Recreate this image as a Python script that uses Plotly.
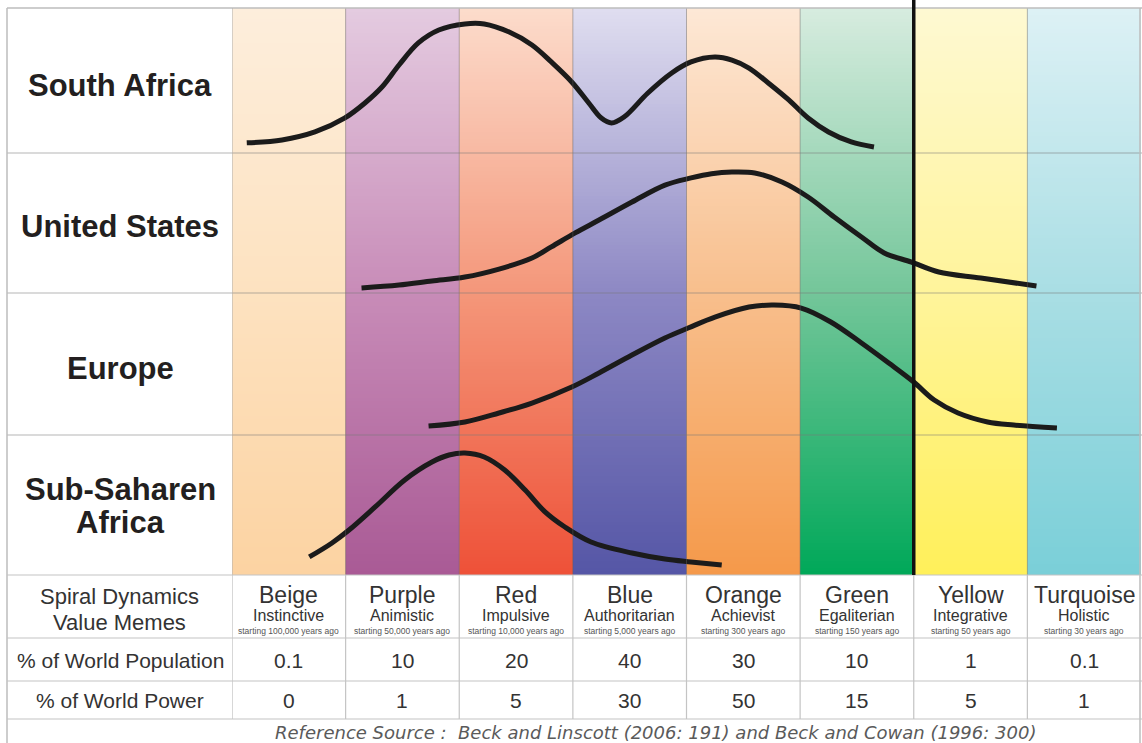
import numpy as np
import plotly.graph_objects as go

# ---------------- data ----------------
memes = ["Beige", "Purple", "Red", "Blue", "Orange", "Green", "Yellow", "Turquoise"]
meme_traits = ["Instinctive", "Animistic", "Impulsive", "Authoritarian",
               "Achievist", "Egaliterian", "Integrative", "Holistic"]
meme_start = ["starting 100,000 years ago", "starting 50,000 years ago",
              "starting 10,000 years ago", "starting 5,000 years ago",
              "starting 300 years ago", "starting 150 years ago",
              "starting 50 years ago", "starting 30 years ago"]
world_population = ["0.1", "10", "20", "40", "30", "10", "1", "0.1"]
world_power = ["0", "1", "5", "30", "50", "15", "5", "1"]

regions = ["South Africa", "United States", "Europe", "Sub-Saharen Africa"]
region_lines = [["South Africa"], ["United States"], ["Europe"], ["Sub-Saharen", "Africa"]]

# distribution curves: x in meme-column units (0 = left edge of Beige), level = share of row height
sa_x = [0.13, 0.44, 0.73, 0.99, 1.17, 1.32, 1.47, 1.64, 1.82, 2.05, 2.22, 2.44, 2.64, 2.81,
        2.99, 3.14, 3.25, 3.34, 3.45, 3.66, 3.87, 4.04, 4.25, 4.40, 4.55, 4.72, 4.90, 5.07,
        5.25, 5.45, 5.65]
sa_level = [0.07, 0.09, 0.145, 0.24, 0.345, 0.455, 0.607, 0.759, 0.848, 0.89, 0.89, 0.834,
            0.745, 0.628, 0.49, 0.345, 0.241, 0.207, 0.248, 0.414, 0.552, 0.628, 0.662,
            0.641, 0.586, 0.483, 0.366, 0.241, 0.145, 0.076, 0.041]

us_x = [1.14, 1.47, 1.76, 2.05, 2.35, 2.64, 2.81, 3.02, 3.23, 3.52, 3.81, 4.04, 4.22, 4.40,
        4.60, 4.84, 5.07, 5.30, 5.54, 5.74, 5.98, 6.22, 6.59, 7.08]
us_level = [0.036, 0.057, 0.086, 0.114, 0.171, 0.25, 0.329, 0.429, 0.521, 0.65, 0.771, 0.822,
            0.852, 0.864, 0.857, 0.793, 0.686, 0.543, 0.40, 0.286, 0.221, 0.15, 0.107, 0.05]

eu_x = [1.73, 2.05, 2.35, 2.64, 2.99, 3.23, 3.52, 3.81, 4.02, 4.25, 4.55, 4.77, 5.01, 5.27,
        5.54, 5.78, 6.0, 6.18, 6.39, 6.65, 6.88, 7.26]
eu_level = [0.063, 0.092, 0.155, 0.225, 0.338, 0.437, 0.563, 0.683, 0.755, 0.830, 0.901,
            0.915, 0.894, 0.796, 0.648, 0.507, 0.373, 0.246, 0.155, 0.092, 0.07, 0.049]

ssa_x = [0.68, 0.88, 1.03, 1.26, 1.52, 1.76, 1.91, 2.05, 2.22, 2.40, 2.58, 2.75, 2.93, 3.16,
         3.52, 3.81, 4.04, 4.31]
ssa_level = [0.129, 0.229, 0.321, 0.486, 0.679, 0.807, 0.857, 0.871, 0.843, 0.75, 0.607,
             0.455, 0.343, 0.236, 0.157, 0.114, 0.093, 0.071]

curves_x = [sa_x, us_x, eu_x, ssa_x]
curves_level = [sa_level, us_level, eu_level, ssa_level]

# column gradient colours (bottom, middle, top)
col_bottom = ["#fcd3a2", "#a95a95", "#ee5138", "#5556a6", "#f5994a", "#00a859", "#fff05a", "#7acfd8"]
col_mid = ["#fde2c0", "#c88cb8", "#f4977a", "#8d88c4", "#f8bf8d", "#74c69a", "#fff49b", "#a9dee4"]
col_top = ["#fdeedc", "#e4cbe0", "#fcdccc", "#e0def0", "#fde8d6", "#d7ecdf", "#fef9d2", "#ddf1f5"]

# ---------------- layout helpers ----------------
W, H = 1142, 743
X0 = 232          # left edge of the colour columns (px)
LEFT = 7          # outer border left
TOP = 8           # outer border top
ROW_EDGES = [8, 153, 293, 435, 575]
TABLE_LINES = [575, 638, 681, 719]


def px(v):
    return v / W


def py(v):
    return 1 - v / H


FONT = "Liberation Sans, Arial, Helvetica, sans-serif"
fig = go.Figure()

# gradient background columns (on yaxis 'y', full chart area)
N = 160
edges_y = np.linspace(0, 1, N + 1)
centers = (edges_y[:-1] + edges_y[1:]) / 2
for i, name in enumerate(memes):
    fig.add_trace(go.Heatmap(
        x=[i, i + 1], y=edges_y, z=[[c] for c in centers],
        zmin=0, zmax=1, showscale=False, hoverinfo="skip",
        colorscale=[[0, col_bottom[i]], [0.5, col_mid[i]], [1, col_top[i]]],
        xaxis="x", yaxis="y", name=name,
    ))

# curves, one per region row (axes y2..y5)
for r, reg in enumerate(regions):
    fig.add_trace(go.Scatter(
        x=curves_x[r], y=curves_level[r], mode="lines", name=reg,
        line=dict(color="#1b1b1b", width=5, shape="spline", smoothing=1.0),
        xaxis="x", yaxis="y%d" % (r + 2), cliponaxis=False, hoverinfo="skip",
    ))

layout = dict(
    width=W, height=H, margin=dict(l=0, r=0, t=0, b=0),
    paper_bgcolor="white", plot_bgcolor="rgba(0,0,0,0)", showlegend=False,
    xaxis=dict(domain=[px(X0), px(1141)], range=[0, 8], visible=False, fixedrange=True),
    yaxis=dict(domain=[py(575), py(TOP)], range=[0, 1], visible=False, fixedrange=True),
)
for r in range(4):
    layout["yaxis%d" % (r + 2)] = dict(
        domain=[py(ROW_EDGES[r + 1]), py(ROW_EDGES[r])], range=[0, 1],
        visible=False, fixedrange=True)
fig.update_layout(**layout)

shapes = []
grid = "rgba(95,95,95,0.45)"
tgrid = "#c4c4c4"
# column separators in chart
for i in range(1, 8):
    shapes.append(dict(type="line", xref="x", yref="paper", x0=i, x1=i,
                       y0=py(575), y1=py(TOP), line=dict(color=grid, width=1), layer="above"))
# row separators
for yv in ROW_EDGES[1:4]:
    shapes.append(dict(type="line", xref="paper", yref="paper", x0=px(LEFT), x1=1,
                       y0=py(yv), y1=py(yv), line=dict(color="rgba(120,120,120,0.55)", width=1),
                       layer="above"))
# outer border top / left / right, label column edge
shapes.append(dict(type="line", xref="paper", yref="paper", x0=px(LEFT), x1=1,
                   y0=py(TOP), y1=py(TOP), line=dict(color="#bcbcbc", width=1.5)))
shapes.append(dict(type="line", xref="paper", yref="paper", x0=px(LEFT), x1=px(LEFT),
                   y0=0, y1=py(TOP), line=dict(color="#bcbcbc", width=1.5)))
shapes.append(dict(type="line", xref="paper", yref="paper", x0=px(1140), x1=px(1140),
                   y0=0, y1=py(TOP), line=dict(color="#bcbcbc", width=1.5)))
shapes.append(dict(type="line", xref="x", yref="paper", x0=0, x1=0,
                   y0=py(719), y1=py(TOP), line=dict(color="#b0b0b0", width=1)))
# table lines
for yv in TABLE_LINES:
    shapes.append(dict(type="line", xref="paper", yref="paper", x0=px(LEFT), x1=1,
                       y0=py(yv), y1=py(yv), line=dict(color=tgrid, width=1.2)))
for i in range(1, 8):
    shapes.append(dict(type="line", xref="x", yref="paper", x0=i, x1=i,
                       y0=py(719), y1=py(575), line=dict(color=tgrid, width=1.2)))
# black Yellow threshold line
shapes.append(dict(type="line", xref="x", yref="paper", x0=6, x1=6,
                   y0=py(575), y1=1, line=dict(color="#111111", width=3.5), layer="above"))
fig.update_layout(shapes=shapes)

ann = []


def add_text(text, x, y, size, color="#333333", xref="paper", family=FONT):
    ann.append(dict(text=text, xref=xref, yref="paper", x=x, y=y, showarrow=False,
                    xanchor="center", yanchor="middle",
                    font=dict(family=family, size=size, color=color)))


row_centers = [85, 226, 368, 506]
for r, lines in enumerate(region_lines):
    ys = [row_centers[r]] if len(lines) == 1 else [row_centers[r] - 16, row_centers[r] + 16]
    for t, yv in zip(lines, ys):
        add_text("<b>%s</b>" % t, px(120), py(yv), 31, color="#231f20")

add_text("Spiral Dynamics", px(119), py(596), 22)
add_text("Value Memes", px(119), py(622), 22)
add_text("% of World Population", px(120), py(660), 21)
add_text("% of World Power", px(120), py(700), 21)
for i in range(8):
    xc = i + 0.5
    add_text(memes[i], xc, py(595), 23, xref="x")
    add_text(meme_traits[i], xc, py(615), 16, xref="x")
    add_text(meme_start[i], xc, py(631), 8.5, color="#555555", xref="x")
    add_text(world_population[i], xc, py(660), 21, xref="x")
    add_text(world_power[i], xc, py(700), 21, xref="x")
add_text("<i>Reference Source :  Beck and Linscott (2006: 191) and Beck and Cowan (1996: 300)</i>",
         px(655), py(732), 18, color="#5a5a5a", family="DejaVu Sans, sans-serif")
fig.update_layout(annotations=ann)

fig.write_html("out.html", config={"displayModeBar": False, "staticPlot": True},
               post_script="document.body.style.margin='0';document.body.style.overflow='hidden';")
